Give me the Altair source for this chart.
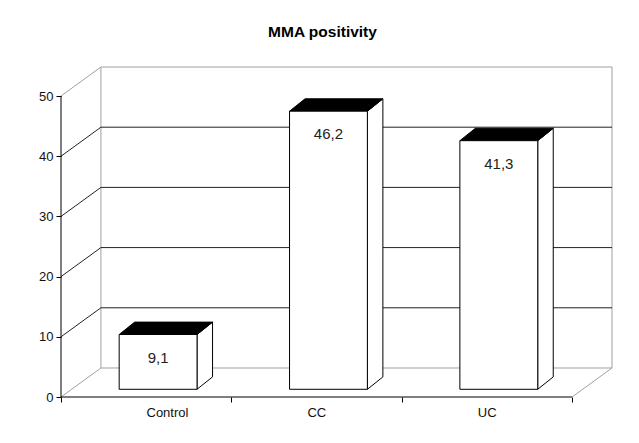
import altair as alt
import pandas as pd

# ---- data ----
categories = ["Control", "CC", "UC"]
values = [9.1, 46.2, 41.3]
value_labels = ["9,1", "46,2", "41,3"]
y_ticks = [0, 10, 20, 30, 40, 50]

# ---- pseudo-3D geometry, in data units ----
DX = 0.2344          # floor depth along x (category units)
DY = 4.82            # floor depth along y (value units)
N = len(categories)
X_MAX = N + DX
Y_MAX = 50 + DY
FX, FY = 0.070, 1.28     # bar front-face offset into the depth
BW = 0.457               # bar width
BDX, BDY = 0.091, 2.06   # bar depth

GRAY = "#a0a0a0"
DARK = "#222222"

# wall / floor / axis lines
lines = []
def seg(x, y, x2, y2, c, w=1):
    lines.append(dict(x=x, y=y, x2=x2, y2=y2, c=c, w=w))

seg(DX, DY, DX, 50 + DY, GRAY)              # back wall left edge
seg(DX, 50 + DY, N + DX, 50 + DY, GRAY)     # back wall top
seg(N + DX, DY, N + DX, 50 + DY, GRAY)      # back wall right edge
seg(DX, DY, N + DX, DY, GRAY)               # floor back edge
seg(N, 0, N + DX, DY, GRAY)                 # floor right edge
for v in y_ticks:
    col = GRAY if v in (0, 50) else DARK
    seg(0, v, DX, v + DY, col)              # side-wall diagonals
    if v not in (0, 50):
        seg(DX, v + DY, N + DX, v + DY, DARK)   # back-wall gridlines
seg(0, 0, 0, 50, "#000000")                 # front value axis
seg(0, 0, N, 0, "#000000")                  # front category axis
lines_df = pd.DataFrame(lines)

front, top, side, lab = [], [], [], []
for i, (c, v, t) in enumerate(zip(categories, values, value_labels)):
    xl = i + 0.5 + FX - BW / 2
    xr = xl + BW
    front.append(dict(cat=c, x=xl, x2=xr, y=FY, y2=v + FY))
    top.append(dict(cat=c, y=v + FY, xa=xl, xb=xr))
    top.append(dict(cat=c, y=v + FY + BDY, xa=xl + BDX, xb=xr + BDX))
    side.append(dict(cat=c, x=xr, y=FY, y2=v + FY))
    side.append(dict(cat=c, x=xr + BDX, y=FY + BDY, y2=v + FY + BDY))
    lab.append(dict(cat=c, x=i + 0.5 + FX, y=v + FY, t=t))
front_df, top_df, side_df, lab_df = map(pd.DataFrame, (front, top, side, lab))

xs = alt.Scale(domain=[0, X_MAX], nice=False, zero=False)
ys = alt.Scale(domain=[0, Y_MAX], nice=False, zero=False)
xaxis = alt.Axis(values=list(range(N + 1)), domain=False, grid=False, title=None,
                 tickSize=5, tickColor="#000", labelPadding=4,
                 labelOffset=85, labelFontSize=13, labelColor="#111",
                 labelExpr="datum.value==0?'Control':datum.value==1?'CC':datum.value==2?'UC':''")
yaxis = alt.Axis(values=y_ticks, domain=False, grid=False, title=None,
                 tickSize=5, tickColor="#000", labelPadding=3,
                 labelFontSize=13, labelColor="#111")

def X(f):
    return alt.X(f, type="quantitative", scale=xs, axis=xaxis)

def Y(f):
    return alt.Y(f, type="quantitative", scale=ys, axis=yaxis)

rules = alt.Chart(lines_df).mark_rule().encode(
    x=X("x"), x2="x2", y=Y("y"), y2="y2",
    color=alt.Color("c:N", scale=None),
)

side_faces = alt.Chart(side_df).mark_area(
    orient="vertical", fill="white", stroke="black", strokeWidth=1
).encode(x=X("x"), y=Y("y"), y2="y2", detail="cat:N")

top_faces = alt.Chart(top_df).mark_area(
    orient="horizontal", fill="black", stroke="black", strokeWidth=1
).encode(y=Y("y"), x=X("xa"), x2="xb", detail="cat:N")

front_faces = alt.Chart(front_df).mark_rect(
    fill="white", stroke="black", strokeWidth=1
).encode(x=X("x"), x2="x2", y=Y("y"), y2="y2")

texts = alt.Chart(lab_df).mark_text(
    fontSize=15, dy=23, baseline="middle", color="#222"
).encode(x=X("x"), y=Y("y"), text="t:N")

chart = alt.layer(rules, side_faces, top_faces, front_faces, texts).properties(
    width=551, height=330,
    autosize=alt.AutoSizeParams(type="none"),
    padding={"left": 53, "top": 59, "right": 19, "bottom": 38},
    title=alt.Title("MMA positivity", fontSize=15.5, fontWeight="bold",
                    anchor="middle", dx=-14, offset=14, baseline="alphabetic",
                    color="#000"),
).configure(font="Liberation Sans").configure_view(strokeWidth=0)

chart.save("out.html", embed_options={"renderer": "svg", "actions": False})
